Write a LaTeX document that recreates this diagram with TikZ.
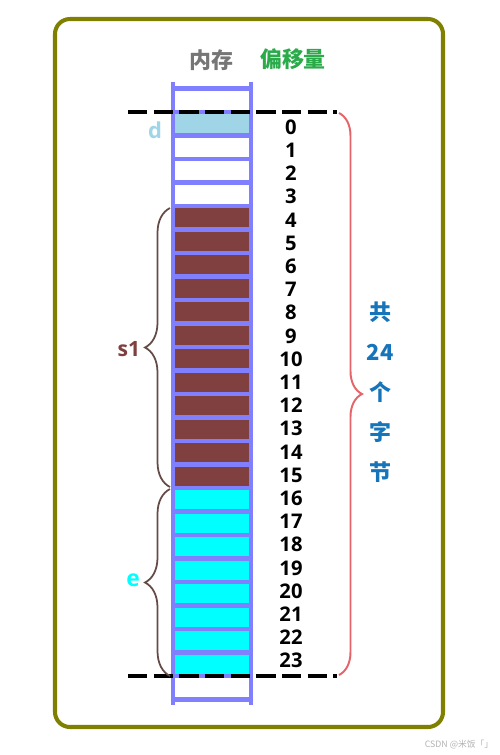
\documentclass[tikz,border=0pt]{standalone}
\usepackage{fontspec}
\setmainfont{Open Sans}
\newfontfamily\cjk{Noto Sans CJK SC}
\usetikzlibrary{positioning,decorations.pathreplacing}
\definecolor{memline}{RGB}{128,128,255}
\definecolor{dfill}{RGB}{160,213,232}
\definecolor{sfill}{RGB}{128,64,64}
\definecolor{efill}{RGB}{0,255,255}
\definecolor{framecol}{RGB}{128,128,0}
\definecolor{headgray}{RGB}{118,118,118}
\definecolor{headgreen}{RGB}{43,170,74}
\definecolor{totalblue}{RGB}{22,116,186}
\definecolor{bracered}{RGB}{228,100,105}
\definecolor{bracedark}{RGB}{100,75,70}
\tikzset{
  cell/.style={draw=memline,line width=2.3pt,rectangle,inner sep=0pt,outer sep=0pt,
    minimum width=1.56cm,minimum height=0.47cm},
  memline/.style={draw=memline,line width=2.3pt},
  offs/.style={font=\bfseries\fontsize{11.5}{12}\selectfont,inner sep=0pt},
  dashline/.style={line width=2.2pt,dash pattern=on 11pt off 3.6pt},
  lbrace/.style={decorate,decoration={brace,amplitude=0.5cm},draw=bracedark,line width=1pt},
  rbrace/.style={decorate,decoration={brace,amplitude=0.46cm},draw=bracered,line width=1.1pt},
  total/.style={font=\cjk\bfseries\fontsize{12.5}{13}\selectfont,text=totalblue,inner sep=0pt}
}
\begin{document}
\begin{tikzpicture}[x=0.02cm,y=-0.02cm]
\useasboundingbox (0,0) rectangle (500,755);
% frame
\draw[framecol,line width=2.3pt,rounded corners=0.3cm] (55,19) rectangle (443,727);
% headers
\node[font=\cjk\bfseries\fontsize{12.5}{13}\selectfont,text=headgray] (mem) at (211,60) {内存};
\node[font=\cjk\bfseries\fontsize{12.5}{13}\selectfont,text=headgreen] (off) at (293,59) {偏移量};
% memory cells
\foreach \i in {-1,1,2,3,24}
  \node[cell,fill=white] (c\i) at (212,123.75+23.5*\i) {};
\node[cell,fill=dfill] (c0) at (212,123.75) {};
\foreach \i in {4,...,15}
  \node[cell,fill=sfill] (c\i) at (212,123.75+23.5*\i) {};
\foreach \i in {16,...,23}
  \node[cell,fill=efill] (c\i) at (212,123.75+23.5*\i) {};
\draw[memline] (c-1.north west) -- ++(0,-6.5);
\draw[memline] (c-1.north east) -- ++(0,-6.5);
\draw[memline] (c24.south west) -- ++(0,5.5);
\draw[memline] (c24.south east) -- ++(0,5.5);
% offsets
\foreach \i in {0,...,23}
  \node[offs] (o\i) at (291,127+23.2*\i) {\i};
% start and end lines
\coordinate (dtl) at (128,112);
\coordinate (dtr) at (337,112);
\coordinate (dbl) at (128,676);
\coordinate (dbr) at (337,676);
\draw[dashline] (dtl) -- (dtr);
\draw[dashline] (dbl) -- (dbr);
% braces
\coordinate (rt) at (339,113);
\coordinate (rb) at (339,675);
\draw[rbrace] (rt) -- (rb);
\coordinate (st) at (170,208);
\coordinate (sb) at (170,487);
\draw[lbrace] (sb) -- (st);
\coordinate (et) at (170,489);
\coordinate (eb) at (170,676);
\draw[lbrace] (eb) -- (et);
% labels
\node[font=\bfseries\fontsize{12.5}{13}\selectfont,text=dfill,inner sep=0pt] (dl) at (155,130.5) {d};
\node[font=\bfseries\fontsize{12}{13}\selectfont,text=sfill,inner sep=0pt] (sl) at (129,349) {s1};
\node[font=\bfseries\fontsize{13}{14}\selectfont,text=efill,inner sep=0pt] (el) at (133,580) {e};
\foreach \t [count=\k] in {共,24,个,字,节}
  \node[total] (t\k) at (380,312+40*\k-40) {\t};
% watermark
\node[font=\cjk\fontsize{5}{6}\selectfont,text=black!30,inner sep=0pt] (wm) at (459,745) {CSDN @米饭「」};
\end{tikzpicture}
\end{document}
